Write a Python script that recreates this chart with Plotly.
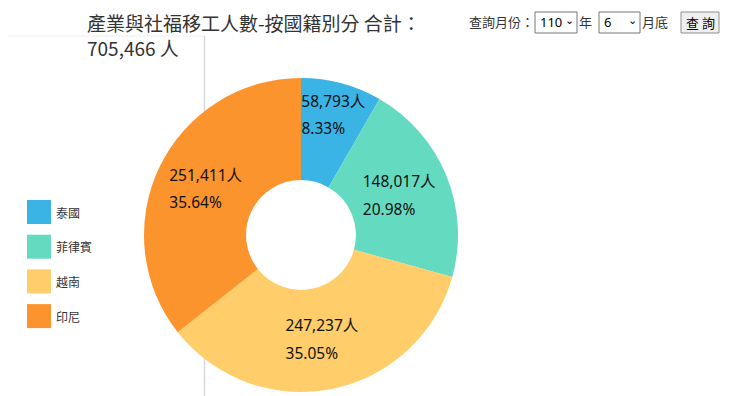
import plotly.graph_objects as go

categories = ["泰國", "菲律賓", "越南", "印尼"]
values = [58793, 148017, 247237, 251411]
percents = ["8.33%", "20.98%", "35.05%", "35.64%"]
total_text = "705,466"
colors = ["#3AB3E5", "#64DBC0", "#FFCD69", "#FC942E"]

# page is offset by the default 8px body margin
OFF = 8
W, H = 740 - OFF, 396 - OFF
px = lambda x: (x - OFF) / W
py = lambda y: 1 - (y - OFF) / H


def em_width(s):
    w = 0.0
    for ch in s:
        if ch.isdigit():
            w += 0.572
        elif ch in ",.":
            w += 0.26
        elif ch == "%":
            w += 0.85
        else:
            w += 1.0
    return w


def label(v, p):
    l1 = f"{v:,}人"
    pad = max(0, round((em_width(l1) - em_width(p)) / 0.26))
    l2 = p + "\u00a0" * pad
    return f"<span style='font-size:15.5px'>{l1}</span><br><span style='font-size:15.5px'>{l2}</span>"


texts = [label(v, p) for v, p in zip(values, percents)]

fig = go.Figure(go.Pie(
    labels=categories, values=values, text=texts,
    textinfo="text", textposition="inside", insidetextorientation="horizontal",
    hole=0.35, sort=False, direction="clockwise", rotation=0,
    marker=dict(colors=colors, line=dict(width=0)),
    textfont=dict(size=21, color="#111", family="Noto Sans, Noto Sans CJK TC"),
    domain=dict(x=[px(144), px(458)], y=[py(392), py(78)]),
    showlegend=False, hoverinfo="label+value+percent",
))

shapes = []
annotations = []
# frame lines
shapes.append(dict(type="line", xref="paper", yref="paper", x0=0, x1=px(205), y0=py(36), y1=py(36),
                   layer="below", line=dict(color="#EEEEEE", width=1)))
shapes.append(dict(type="line", xref="paper", yref="paper", x0=px(204.5), x1=px(204.5), y0=py(36), y1=0,
                   layer="below", line=dict(color="#D8D8D8", width=1.5)))

# custom legend
for i, (c, col) in enumerate(zip(categories, colors)):
    cy = 212 + i * 34.7
    shapes.append(dict(type="rect", xref="paper", yref="paper", x0=px(27), x1=px(51),
                       y0=py(cy + 12), y1=py(cy - 12), fillcolor=col, line=dict(width=0)))
    annotations.append(dict(text=c, xref="paper", yref="paper", x=px(54), y=py(cy), xanchor="left",
                            yanchor="middle", showarrow=False,
                            font=dict(size=12, color="#333", family="Noto Sans CJK TC")))

# title
annotations.append(dict(text=f"產業與社福移工人數-按國籍別分 合計：<br>{total_text} 人",
                        xref="paper", yref="paper", x=px(86), y=1, xanchor="left", yanchor="top",
                        align="left", showarrow=False, borderpad=0,
                        font=dict(size=19, color="#333", family="Noto Sans CJK TC")))

# query controls
ctrl_font = dict(size=13, color="#333", family="Noto Sans CJK TC")
annotations.append(dict(text="查詢月份：", xref="paper", yref="paper", x=px(467), y=py(22), xanchor="left",
                        yanchor="middle", showarrow=False, font=ctrl_font))
shapes.append(dict(type="rect", xref="paper", yref="paper", x0=px(535), x1=px(577), y0=py(33), y1=py(12),
                   fillcolor="white", line=dict(color="#767676", width=1)))
annotations.append(dict(text="110", xref="paper", yref="paper", x=px(538), y=py(22.5), xanchor="left",
                        yanchor="middle", showarrow=False, font=dict(size=13, color="#000", family="Noto Sans")))
annotations.append(dict(text="⌄", xref="paper", yref="paper", x=px(569), y=py(20), xanchor="center",
                        yanchor="middle", showarrow=False, font=dict(size=11, color="#000", family="DejaVu Sans")))
annotations.append(dict(text="年", xref="paper", yref="paper", x=px(577), y=py(22), xanchor="left",
                        yanchor="middle", showarrow=False, font=ctrl_font))
shapes.append(dict(type="rect", xref="paper", yref="paper", x0=px(599), x1=px(640), y0=py(33), y1=py(12),
                   fillcolor="white", line=dict(color="#767676", width=1)))
annotations.append(dict(text="6", xref="paper", yref="paper", x=px(602), y=py(22.5), xanchor="left",
                        yanchor="middle", showarrow=False, font=dict(size=13, color="#000", family="Noto Sans")))
annotations.append(dict(text="⌄", xref="paper", yref="paper", x=px(632), y=py(20), xanchor="center",
                        yanchor="middle", showarrow=False, font=dict(size=11, color="#000", family="DejaVu Sans")))
annotations.append(dict(text="月底", xref="paper", yref="paper", x=px(640), y=py(22), xanchor="left",
                        yanchor="middle", showarrow=False, font=ctrl_font))
shapes.append(dict(type="rect", xref="paper", yref="paper", x0=px(681), x1=px(719), y0=py(33), y1=py(12),
                   fillcolor="#EFEFEF", line=dict(color="#8F8F8F", width=1)))
annotations.append(dict(text="查\u00a0詢", xref="paper", yref="paper", x=px(700), y=py(22.5), xanchor="center",
                        yanchor="middle", showarrow=False, font=dict(size=13, color="#000", family="Noto Sans CJK TC")))

fig.update_layout(
    width=W, height=H, margin=dict(l=0, r=0, t=0, b=0),
    paper_bgcolor="white", plot_bgcolor="white",
    shapes=shapes, annotations=annotations,
    uniformtext=dict(minsize=21, mode="show"),
)

fig.write_html("out.html")
